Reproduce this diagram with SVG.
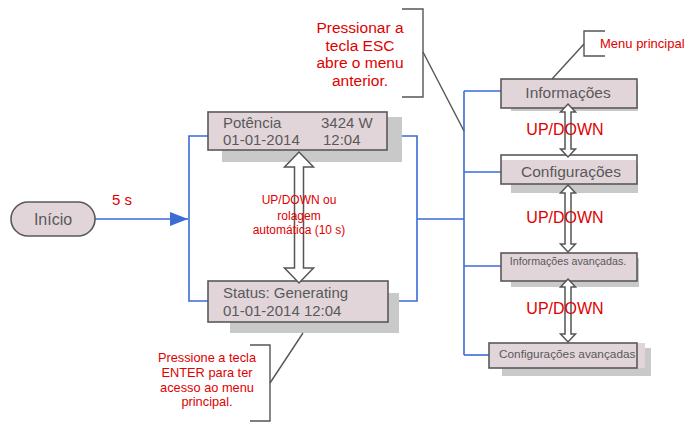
<svg xmlns="http://www.w3.org/2000/svg" width="686" height="428" viewBox="0 0 686 428">
<defs>
<style>
.box{fill:#e2d5da;stroke:#595959;stroke-width:1.6}
.sh{fill:#c9c9c9}
.t{font-family:"Liberation Sans",Arial,sans-serif;fill:#595959}
.r{font-family:"Liberation Sans",Arial,sans-serif;fill:#e00000}
.blue{fill:none;stroke:#3a6bd6;stroke-width:1.6}
.call{fill:none;stroke:#555;stroke-width:1.4}
.dbl{fill:#fff;stroke:#555;stroke-width:1.5;stroke-linejoin:miter}
</style>
<marker id="ah" viewBox="0 0 18 14" refX="18" refY="7" markerWidth="18" markerHeight="14" markerUnits="userSpaceOnUse" orient="auto">
<path d="M0,0 L18,7 L0,14 Z" fill="#3a6bd6"/>
</marker>
</defs>
<rect width="686" height="428" fill="#fff"/>

<g id="connectors">
<line class="blue" x1="95" y1="219" x2="188" y2="219" marker-end="url(#ah)"/>
<polyline class="blue" points="208,136 189,136 189,301 208,301"/>
<polyline class="blue" points="387,136 417,136 417,301 388,301"/>
<line class="blue" x1="417" y1="219" x2="464" y2="219"/>
<line class="blue" x1="464" y1="91" x2="464" y2="355"/>
<line class="blue" x1="464" y1="91" x2="501" y2="91"/>
<line class="blue" x1="464" y1="172" x2="501" y2="172"/>
<line class="blue" x1="464" y1="266" x2="501" y2="266"/>
<line class="blue" x1="464" y1="355" x2="489" y2="355"/>
</g>

<g id="inicio">
<rect class="box" x="11" y="202" width="84" height="34" rx="17"/>
<text class="t" x="53" y="225" font-size="16" text-anchor="middle">Início</text>
</g>
<text class="r" x="122" y="205" font-size="15" text-anchor="middle">5 s</text>

<g id="potencia">
<rect class="sh" x="222" y="117" width="180" height="45"/>
<rect class="box" x="208" y="112" width="179" height="38"/>
<text class="t" x="223" y="128" font-size="15">Potência</text>
<text class="t" x="321" y="128" font-size="15">3424 W</text>
<text class="t" x="223" y="145" font-size="15">01-01-2014</text>
<text class="t" x="323" y="145" font-size="15">12:04</text>
</g>

<g id="status">
<rect class="sh" x="230" y="293" width="169" height="40"/>
<rect class="box" x="208" y="281" width="180" height="41"/>
<text class="t" x="223" y="298" font-size="15">Status: Generating</text>
<text class="t" x="223" y="316" font-size="15">01-01-2014 12:04</text>
</g>

<g id="informacoes">
<rect class="sh" x="511" y="85" width="127" height="26"/>
<rect class="box" x="501" y="79" width="136" height="29"/>
<text class="t" x="568" y="98" font-size="15.5" text-anchor="middle">Informações</text>
</g>

<g id="configuracoes">
<rect class="sh" x="511" y="165" width="127" height="28"/>
<rect x="501" y="155" width="136" height="29" fill="#fff"/>
<rect x="501" y="160" width="136" height="24" fill="#e2d5da"/>
<rect x="501" y="155" width="136" height="29" fill="none" stroke="#595959" stroke-width="1.6"/>
<text class="t" x="571" y="177" font-size="15.5" text-anchor="middle">Configurações</text>
</g>

<g id="info-avancadas">
<rect class="sh" x="511" y="258" width="128" height="29"/>
<rect class="box" x="501" y="253" width="136" height="28"/>
<text class="t" x="568" y="265" font-size="10.7" text-anchor="middle">Informações avançadas.</text>
</g>

<g id="config-avancadas">
<rect class="sh" x="502" y="348" width="149" height="28"/>
<rect x="489" y="343" width="156" height="25" fill="#e2d5da"/>
<rect x="489" y="343" width="148" height="25" fill="none" stroke="#595959" stroke-width="1.6"/>
<text class="t" x="499" y="358" font-size="11.8">Configurações avançadas</text>
</g>

<g id="arrows">
<polygon class="dbl" points="299,152 313.5,167 303.5,167 303.5,268 313.5,268 299,283 284.5,268 294.5,268 294.5,167 284.5,167"/>
<polygon class="dbl" points="568,104 575.5,112 571,112 571,149 575.5,149 568,157 560.5,149 565,149 565,112 560.5,112"/>
<polygon class="dbl" points="568,185 575.5,193 571,193 571,244 575.5,244 568,252 560.5,244 565,244 565,193 560.5,193"/>
<polygon class="dbl" points="568,279 575.5,287 571,287 571,334 575.5,334 568,342 560.5,334 565,334 565,287 560.5,287"/>
</g>

<g id="labels">
<text class="r" font-size="12" text-anchor="middle"><tspan x="299" y="204">UP/DOWN ou</tspan><tspan x="299" y="220">rolagem</tspan><tspan x="299" y="234">automática (10 s)</tspan></text>
<text class="r" x="565" y="135" font-size="16" text-anchor="middle">UP/DOWN</text>
<text class="r" x="565" y="223" font-size="16" text-anchor="middle">UP/DOWN</text>
<text class="r" x="565" y="314" font-size="16" text-anchor="middle">UP/DOWN</text>
</g>

<g id="callout-esc">
<polyline class="call" points="402,9 423,9 423,97 402,97"/>
<line class="call" x1="423" y1="52" x2="464" y2="131"/>
<text class="r" font-size="15.5" text-anchor="middle"><tspan x="360" y="33">Pressionar a</tspan><tspan x="360" y="51">tecla ESC</tspan><tspan x="360" y="68">abre o menu</tspan><tspan x="360" y="86">anterior.</tspan></text>
</g>

<g id="callout-menu">
<polyline class="call" points="605,31 584,31 584,56 605,56"/>
<line class="call" x1="584" y1="44" x2="552" y2="79"/>
<text class="r" x="600" y="48" font-size="13">Menu principal</text>
</g>

<g id="callout-enter">
<polyline class="call" points="250,345 270,345 270,421 250,421"/>
<line class="call" x1="270" y1="383" x2="303" y2="333"/>
<text class="r" font-size="12.8" text-anchor="middle"><tspan x="207" y="362">Pressione a tecla</tspan><tspan x="207" y="377">ENTER para ter</tspan><tspan x="207" y="392">acesso ao menu</tspan><tspan x="207" y="406">principal.</tspan></text>
</g>
</svg>
